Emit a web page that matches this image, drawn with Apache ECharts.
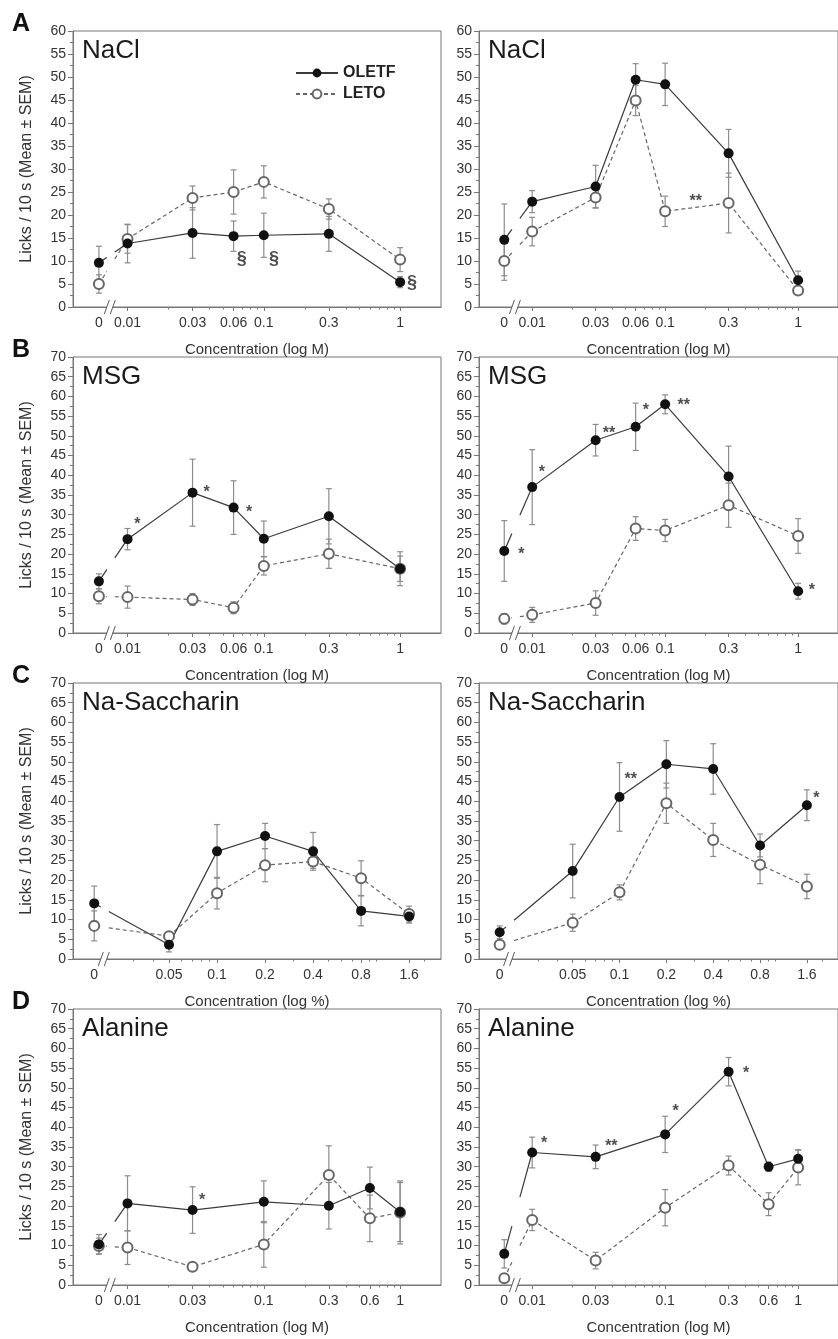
<!DOCTYPE html>
<html>
<head>
<meta charset="utf-8">
<script src="https://cdn.jsdelivr.net/npm/echarts@6.0.0/dist/echarts.min.js"></script>
<style>
  html, body { margin: 0; padding: 0; background: #fff; }
  #chart { width: 838px; height: 1339px; }
</style>
</head>
<body>
<div id="chart"></div>
<script>
// concentrations and tick marks
const molConcA = [0, 0.01, 0.03, 0.06, 0.1, 0.3, 1];
const molTicksA = [0, 0.01, 0.03, 0.06, 0.1, 0.3, 1];
const molMinorA = [0.02, 0.04, 0.05, 0.07, 0.08, 0.09, 0.2, 0.4, 0.5, 0.6, 0.7, 0.8, 0.9];
const molConcD = [0, 0.01, 0.03, 0.1, 0.3, 0.6, 1];
const molTicksD = [0, 0.01, 0.03, 0.1, 0.3, 0.6, 1];
const molMinorD = [0.02, 0.04, 0.05, 0.06, 0.07, 0.08, 0.09, 0.2, 0.4, 0.5, 0.7, 0.8, 0.9];
const pctConc = [0, 0.05, 0.1, 0.2, 0.4, 0.8, 1.6];
const pctTicks = [0, 0.05, 0.1, 0.2, 0.4, 0.8, 1.6];
const pctMinor = [0.03, 0.04, 0.06, 0.07, 0.08, 0.09, 0.3, 0.5, 0.6, 0.7, 0.9, 1, 2];

// A: NaCl
const naclLeftOletf = [9.6, 13.8, 16.1, 15.4, 15.6, 15.9, 5.4];
const naclLeftOletfSem = [3.6, 4.2, 5.5, 3.3, 4.8, 3.8, 1.2];
const naclLeftLeto = [5.0, 14.8, 23.7, 25.0, 27.2, 21.3, 10.3];
const naclLeftLetoSem = [2.0, 3.1, 2.6, 4.8, 3.5, 2.2, 2.6];
const naclRightOletf = [14.6, 22.9, 26.2, 49.4, 48.4, 33.4, 5.8];
const naclRightOletfSem = [7.8, 2.4, 4.6, 3.5, 4.6, 5.2, 2.0];
const naclRightLeto = [10.0, 16.4, 23.8, 44.9, 20.8, 22.6, 3.6];
const naclRightLetoSem = [4.2, 3.1, 2.3, 3.3, 3.3, 6.5, 0.8];
// B: MSG
const msgLeftOletf = [13.1, 23.8, 35.6, 31.8, 23.9, 29.6, 16.3];
const msgLeftOletfSem = [1.9, 2.7, 8.5, 6.8, 4.5, 7.0, 4.3];
const msgLeftLeto = [9.3, 9.1, 8.5, 6.4, 17.0, 20.1, 16.3];
const msgLeftLetoSem = [1.9, 2.8, 1.5, 1.5, 2.3, 3.7, 3.2];
const msgRightOletf = [20.8, 37.0, 48.9, 52.3, 58.0, 39.7, 10.6];
const msgRightOletfSem = [7.7, 9.5, 4.0, 6.0, 2.4, 7.7, 2.0];
const msgRightLeto = [3.6, 4.6, 7.6, 26.5, 26.0, 32.4, 24.6];
const msgRightLetoSem = [1.3, 1.9, 3.1, 3.0, 2.8, 5.6, 4.4];
// C: Na-Saccharin
const sacLeftOletf = [14.1, 3.6, 27.3, 31.2, 27.3, 12.2, 10.8];
const sacLeftOletfSem = [4.4, 1.8, 6.8, 3.2, 4.8, 3.8, 1.7];
const sacLeftLeto = [8.4, 5.8, 16.7, 23.8, 24.7, 20.5, 11.4];
const sacLeftLetoSem = [3.8, 0.8, 4.0, 4.2, 1.7, 4.4, 2.0];
const sacRightOletf = [6.8, 22.3, 41.1, 49.4, 48.2, 28.8, 39.0];
const sacRightOletfSem = [1.6, 6.8, 8.7, 6.0, 6.4, 2.9, 3.9];
const sacRightLeto = [3.6, 9.2, 16.9, 39.5, 30.2, 23.9, 18.4];
const sacRightLetoSem = [1.0, 2.2, 1.9, 5.1, 4.2, 4.8, 3.1];
// D: Alanine
const alaLeftOletf = [10.3, 20.7, 19.0, 21.1, 20.1, 24.6, 18.5];
const alaLeftOletfSem = [2.5, 7.0, 5.9, 5.3, 5.9, 5.3, 7.5];
const alaLeftLeto = [9.9, 9.5, 4.6, 10.3, 27.9, 16.9, 18.4];
const alaLeftLetoSem = [2.0, 4.3, 0.8, 5.8, 7.4, 5.9, 8.0];
const alaRightOletf = [7.9, 33.6, 32.5, 38.2, 54.1, 30.0, 32.0];
const alaRightOletfSem = [3.6, 3.9, 3.0, 4.6, 3.6, 1.2, 2.3];
const alaRightLeto = [1.7, 16.5, 6.2, 19.6, 30.3, 20.5, 29.8];
const alaRightLetoSem = [0.6, 2.7, 2.1, 4.6, 2.4, 2.9, 4.4];

// significance marks: [concentration, y, text]
const naclLeftNotes = [[0.069, 10.4, "§"], [0.119, 10.4, "§"], [1.22, 5.3, "§"]];
const naclRightNotes = [[0.17, 23.8, "**"]];
const msgLeftNotes = [[0.0118, 28.6, "*"], [0.038, 36.6, "*"], [0.078, 31.5, "*"]];
const msgRightNotes = [[0.0083, 21.0, "*"], [0.0118, 41.7, "*"], [0.0378, 51.6, "**"],
  [0.0716, 57.3, "*"], [0.138, 58.6, "**"], [1.27, 11.8, "*"]];
const sacLeftNotes = [];
const sacRightNotes = [[0.118, 46.6, "**"], [1.84, 41.7, "*"]];
const alaLeftNotes = [[0.0352, 22.4, "*"]];
const alaRightNotes = [[0.0123, 37.0, "*"], [0.0394, 36.2, "**"], [0.12, 45.0, "*"], [0.407, 54.7, "*"]];

const FONT = "'Liberation Sans', Arial, Helvetica, sans-serif";
const AXIS_COLOR = "#777";
const TEXT_COLOR = "#333";

// log axes: "0" is placed left of the axis break
const SCALES = {
  M: { min: -2.40, max: 0.30, zero: -2.21, brk: -2.13, name: "Concentration (log M)" },
  P: { min: -1.903, max: 0.404, zero: -1.77, brk: -1.71, name: "Concentration (log %)" },
};

const LEFTS = [73, 479];
const TOPS = [31, 357, 683, 1009];
const W = 368;
const H = 276;

const panels = [
  { row: 0, col: 0, title: "NaCl", ymax: 60, scale: "M", conc: molConcA, ticks: molTicksA, minor: molMinorA,
    ole: naclLeftOletf, oleSem: naclLeftOletfSem, leto: naclLeftLeto, letoSem: naclLeftLetoSem, notes: naclLeftNotes },
  { row: 0, col: 1, title: "NaCl", ymax: 60, scale: "M", conc: molConcA, ticks: molTicksA, minor: molMinorA,
    ole: naclRightOletf, oleSem: naclRightOletfSem, leto: naclRightLeto, letoSem: naclRightLetoSem, notes: naclRightNotes },
  { row: 1, col: 0, title: "MSG", ymax: 70, scale: "M", conc: molConcA, ticks: molTicksA, minor: molMinorA,
    ole: msgLeftOletf, oleSem: msgLeftOletfSem, leto: msgLeftLeto, letoSem: msgLeftLetoSem, notes: msgLeftNotes },
  { row: 1, col: 1, title: "MSG", ymax: 70, scale: "M", conc: molConcA, ticks: molTicksA, minor: molMinorA,
    ole: msgRightOletf, oleSem: msgRightOletfSem, leto: msgRightLeto, letoSem: msgRightLetoSem, notes: msgRightNotes },
  { row: 2, col: 0, title: "Na-Saccharin", ymax: 70, scale: "P", conc: pctConc, ticks: pctTicks, minor: pctMinor,
    ole: sacLeftOletf, oleSem: sacLeftOletfSem, leto: sacLeftLeto, letoSem: sacLeftLetoSem, notes: sacLeftNotes },
  { row: 2, col: 1, title: "Na-Saccharin", ymax: 70, scale: "P", conc: pctConc, ticks: pctTicks, minor: pctMinor,
    ole: sacRightOletf, oleSem: sacRightOletfSem, leto: sacRightLeto, letoSem: sacRightLetoSem, notes: sacRightNotes },
  { row: 3, col: 0, title: "Alanine", ymax: 70, scale: "M", conc: molConcD, ticks: molTicksD, minor: molMinorD,
    ole: alaLeftOletf, oleSem: alaLeftOletfSem, leto: alaLeftLeto, letoSem: alaLeftLetoSem, notes: alaLeftNotes },
  { row: 3, col: 1, title: "Alanine", ymax: 70, scale: "M", conc: molConcD, ticks: molTicksD, minor: molMinorD,
    ole: alaRightOletf, oleSem: alaRightOletfSem, leto: alaRightLeto, letoSem: alaRightLetoSem, notes: alaRightNotes },
];

const xpos = (c, sc) => (c === 0 ? sc.zero : Math.log10(c));

const errorBarRender = (color) => (params, api) => {
  const x = api.value(0);
  const y = api.value(1);
  const e = api.value(2);
  const top = api.coord([x, y + e]);
  const bot = api.coord([x, y - e]);
  const style = { stroke: color, lineWidth: 1.2 };
  return {
    type: "group",
    children: [
      { type: "line", shape: { x1: top[0], y1: top[1], x2: bot[0], y2: bot[1] }, style },
      { type: "line", shape: { x1: top[0] - 3, y1: top[1], x2: top[0] + 3, y2: top[1] }, style },
      { type: "line", shape: { x1: bot[0] - 3, y1: bot[1], x2: bot[0] + 3, y2: bot[1] }, style },
    ],
  };
};

// segment from "0" to the first concentration, interrupted at the axis break
const gapRender = (color, dash) => (params, api) => {
  const p0 = api.coord([api.value(0), api.value(1)]);
  const p1 = api.coord([api.value(2), api.value(3)]);
  const bx = api.coord([api.value(4), 0])[0];
  const at = (px) => [px, p0[1] + ((px - p0[0]) / (p1[0] - p0[0])) * (p1[1] - p0[1])];
  const a = at(bx - 3);
  const b = at(bx + 5);
  const style = { stroke: color, lineWidth: 1.2, lineDash: dash };
  return {
    type: "group",
    children: [
      { type: "line", shape: { x1: p0[0], y1: p0[1], x2: a[0], y2: a[1] }, style },
      { type: "line", shape: { x1: b[0], y1: b[1], x2: p1[0], y2: p1[1] }, style },
    ],
  };
};

const option = {
  animation: false,
  backgroundColor: "#fff",
  textStyle: { fontFamily: FONT },
  title: [],
  grid: [],
  xAxis: [],
  yAxis: [],
  series: [],
  legend: {
    data: ["OLETF", "LETO"],
    orient: "vertical",
    left: 290,
    top: 60,
    itemWidth: 42,
    itemHeight: 11,
    itemGap: 5,
    textStyle: { fontSize: 16, fontWeight: "bold", color: "#222", fontFamily: FONT },
  },
};

["A", "B", "C", "D"].forEach((t, r) => {
  option.title.push({
    text: t,
    left: 12,
    top: TOPS[r] - 19,
    padding: 0,
    textStyle: { fontSize: 25, fontWeight: "bold", color: "#111", fontFamily: FONT },
  });
});

panels.forEach((p, i) => {
  const sc = SCALES[p.scale];
  const left = LEFTS[p.col];
  const top = TOPS[p.row];
  const xi = i * 2;

  option.grid.push({
    left, top, width: W, height: H,
    show: true, borderColor: AXIS_COLOR, borderWidth: 1, backgroundColor: "transparent",
  });

  option.title.push({
    text: p.title,
    left: left + 9,
    top: top + 7,
    padding: 0,
    textStyle: { fontSize: 26, fontWeight: "normal", color: "#1a1a1a", fontFamily: FONT },
  });

  const labelMap = {};
  p.ticks.forEach((t) => { labelMap[xpos(t, sc).toFixed(5)] = String(t); });

  option.xAxis.push({
    gridIndex: i,
    type: "value",
    position: "bottom",
    min: sc.min,
    max: sc.max,
    axisLine: { show: true, onZero: false, lineStyle: { color: AXIS_COLOR } },
    axisTick: {
      show: true, length: 4, lineStyle: { color: AXIS_COLOR },
      customValues: p.ticks.filter((t) => t > 0).map((t) => xpos(t, sc)),
    },
    axisLabel: {
      show: true, margin: 9, fontSize: 14, color: TEXT_COLOR, fontFamily: FONT,
      customValues: p.ticks.map((t) => xpos(t, sc)),
      formatter: (v) => labelMap[v.toFixed(5)] || "",
    },
    splitLine: { show: false },
    name: sc.name,
    nameLocation: "middle",
    nameGap: 35,
    nameTextStyle: { fontSize: 15, color: TEXT_COLOR, fontFamily: FONT },
  });
  option.xAxis.push({
    gridIndex: i,
    type: "value",
    position: "bottom",
    min: sc.min,
    max: sc.max,
    axisLine: { show: false, onZero: false },
    axisTick: {
      show: true, length: 2.5, lineStyle: { color: AXIS_COLOR },
      customValues: p.minor.map((t) => xpos(t, sc)),
    },
    axisLabel: { show: false },
    splitLine: { show: false },
  });

  option.yAxis.push({
    gridIndex: i,
    type: "value",
    position: "left",
    min: 0,
    max: p.ymax,
    interval: 5,
    axisLine: { show: true, onZero: false, lineStyle: { color: AXIS_COLOR } },
    axisTick: { show: true, length: 5, lineStyle: { color: AXIS_COLOR } },
    minorTick: { show: true, splitNumber: 2, length: 3, lineStyle: { color: AXIS_COLOR } },
    axisLabel: { fontSize: 14, color: TEXT_COLOR, margin: 7, fontFamily: FONT },
    splitLine: { show: false },
    name: p.col === 0 ? "Licks / 10 s (Mean \u00b1 SEM)" : "",
    nameLocation: "middle",
    nameRotate: 90,
    nameGap: 38,
    nameTextStyle: { fontSize: 16, color: TEXT_COLOR, fontFamily: FONT },
  });

  const axes = { xAxisIndex: xi, yAxisIndex: i };
  const pts = (vals, sems) => p.conc.map((c, k) => [xpos(c, sc), vals[k], sems[k]]);
  const groups = [
    { name: "LETO", vals: p.leto, sems: p.letoSem, line: "#666", dash: [4, 3],
      symbol: "emptyCircle", item: { color: "#666", borderWidth: 1, opacity: 1 } },
    { name: "OLETF", vals: p.ole, sems: p.oleSem, line: "#3a3a3a", dash: null,
      symbol: "circle", item: { color: "#111", opacity: 1 } },
  ];

  groups.forEach((g) => {
    option.series.push({
      type: "custom", name: g.name + " SEM", ...axes,
      renderItem: errorBarRender("#8c8c8c"),
      encode: { x: 0, y: 1 },
      data: pts(g.vals, g.sems),
      z: 1,
    });
  });

  groups.forEach((g) => {
    const d = pts(g.vals, g.sems);
    option.series.push({
      type: "custom", name: g.name + " break", ...axes,
      renderItem: gapRender(g.line, g.dash),
      encode: { x: [0, 2], y: [1, 3] },
      data: [[d[0][0], d[0][1], d[1][0], d[1][1], sc.brk]],
      z: 2,
    });
    option.series.push({
      type: "line", name: g.name, ...axes,
      data: d.slice(1).map((q) => [q[0], q[1]]),
      symbol: g.symbol, symbolSize: 10, showSymbol: true,
      lineStyle: { color: g.line, width: 1.2, type: g.dash || "solid" },
      itemStyle: g.item,
      z: 3,
    });
    option.series.push({
      type: "scatter", name: g.name + " 0", ...axes,
      data: [[d[0][0], d[0][1]]],
      symbol: g.symbol, symbolSize: 10,
      itemStyle: g.item,
      z: 3,
    });
  });

  // axis break "//"
  option.series.push({
    type: "scatter", name: "break fill", ...axes, clip: false,
    data: [[sc.brk, 0]],
    symbol: "path://M0,14 L5,0 L11,0 L6,14 Z", symbolSize: [11, 14],
    itemStyle: { color: "#fff", borderWidth: 0, opacity: 1 },
    z: 4,
  });
  option.series.push({
    type: "scatter", name: "break", ...axes, clip: false,
    data: [[sc.brk, 0]],
    symbol: "path://M0,14 L5,0 M6,14 L11,0", symbolSize: [11, 14],
    itemStyle: { color: "rgba(0,0,0,0)", borderColor: "#555", borderWidth: 1, opacity: 1 },
    z: 4,
  });

  option.series.push({
    type: "scatter", name: "notes", ...axes, clip: false,
    symbolSize: 1,
    itemStyle: { color: "rgba(0,0,0,0)" },
    data: p.notes.map((n) => ({
      value: [xpos(n[0], sc), n[1]],
      label: {
        formatter: n[2],
        offset: n[2][0] === "*" ? [0, 4] : [0, 0],
        fontSize: n[2][0] === "*" ? 16 : 18,
      },
    })),
    label: { show: true, position: "inside", color: "#222", fontWeight: "bold", fontFamily: FONT },
    z: 5,
  });
});

const chart = echarts.init(document.getElementById("chart"), null, { renderer: "canvas" });
chart.setOption(option);
</script>
</body>
</html>
